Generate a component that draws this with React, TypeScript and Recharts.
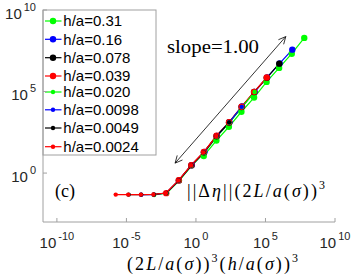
import React from 'react';
import { LineChart, Line, XAxis, YAxis, ReferenceLine } from 'recharts';

// ---- data (log10 values) ----
const seriesLabels = ['h/a=0.31', 'h/a=0.16', 'h/a=0.078', 'h/a=0.039', 'h/a=0.020', 'h/a=0.0098', 'h/a=0.0049', 'h/a=0.0024'];
const seriesColors = ['#00ff00', '#0000ff', '#000000', '#ff0000', '#00ff00', '#0000ff', '#000000', '#ff0000'];
const markerRadius = [3.2, 3.2, 3.2, 3.2, 2.2, 2.2, 2.2, 2.2];

const logX_031 = [0.56, 1.47, 2.37, 3.27, 4.18, 5.08, 5.98, 6.89, 7.79];
const logY_031 = [1.05, 1.99, 2.84, 3.76, 4.63, 5.59, 6.45, 7.32, 8.29];
const logX_016 = [-0.3, 0.61, 1.51, 2.41, 3.31, 4.22, 5.12, 6.02, 6.93];
const logY_016 = [0.49, 1.29, 2.28, 3.12, 4.08, 4.98, 5.87, 6.73, 7.57];
const logX_0078 = [-1.23, -0.33, 0.57, 1.48, 2.38, 3.28, 4.18, 5.09, 5.99];
const logY_0078 = [-0.45, 0.47, 1.27, 2.26, 3.1, 4.05, 4.97, 5.84, 6.71];
const logX_0039 = [-2.14, -1.23, -0.33, 0.57, 1.48, 2.38, 3.28, 4.18, 5.09];
const logY_0039 = [-1.23, -0.44, 0.49, 1.29, 2.29, 3.12, 4.07, 4.98, 5.86];
const logX_0020 = [-3.01, -2.1, -1.2, -0.3, 0.61, 1.51, 2.41, 3.31, 4.22];
const logY_0020 = [-1.34, -1.23, -0.46, 0.46, 1.25, 2.25, 3.09, 4.05, 4.97];
const logX_00098 = [-3.94, -3.03, -2.13, -1.23, -0.32, 0.58, 1.48, 2.39, 3.29];
const logY_00098 = [-1.33, -1.32, -1.22, -0.45, 0.48, 1.27, 2.27, 3.11, 4.06];
const logX_00049 = [-4.84, -3.94, -3.03, -2.13, -1.23, -0.32, 0.58, 1.48, 2.39];
const logY_00049 = [-1.32, -1.32, -1.31, -1.22, -0.45, 0.48, 1.27, 2.27, 3.11];
const logX_00024 = [-5.77, -4.87, -3.96, -3.06, -2.16, -1.25, -0.35, 0.55, 1.46];
const logY_00024 = [-1.32, -1.32, -1.32, -1.31, -1.22, -0.45, 0.48, 1.27, 2.27];

const seriesLogX = [logX_031, logX_016, logX_0078, logX_0039, logX_0020, logX_00098, logX_00049, logX_00024];
const seriesLogY = [logY_031, logY_016, logY_0078, logY_0039, logY_0020, logY_00098, logY_00049, logY_00024];

const xTickExponents = [-10, -5, 0, 5, 10];
const yTickExponents = [0, 5, 10];
const xDomain = [-11, 10];
const yDomain = [-3, 10];

// slope arrow end points (log10 coordinates)
const arrowStart = { x: -1.5, y: 0.61 };
const arrowEnd = { x: 6.46, y: 8.37 };

const seriesData = seriesLogX.map((xs, k) => xs.map((x, j) => ({ x, y: seriesLogY[k][j] })));

const BOX = '#a0a0a0';
const TICKTXT = '#262626';
const SANS = '"Liberation Sans", Arial, Helvetica, sans-serif';
const SERIF = '"Liberation Serif", "Times New Roman", serif';

const BottomTick = (props: any) => {
  const { x, y, payload } = props;
  return (
    <g>
      <line x1={x} y1={y} x2={x} y2={y - 4} stroke={BOX} strokeWidth={1} />
      <text x={x} y={y + 26} textAnchor="middle" fontFamily={SANS} fontSize={15} fill={TICKTXT}>
        10
        <tspan dx={2} dy={-8} fontSize={11}>{String(payload.value)}</tspan>
      </text>
    </g>
  );
};

const TopTick = (props: any) => {
  const { x, y } = props;
  return <line x1={x} y1={y} x2={x} y2={y + 4} stroke={BOX} strokeWidth={1} />;
};

const LeftTick = (props: any) => {
  const { x, y, payload } = props;
  return (
    <g>
      <line x1={x} y1={y} x2={x + 4} y2={y} stroke={BOX} strokeWidth={1} />
      <text x={x - 7} y={y + 8.8} textAnchor="end" fontFamily={SANS} fontSize={15} fill={TICKTXT}>
        10
        <tspan dx={2} dy={-8} fontSize={11}>{String(payload.value)}</tspan>
      </text>
    </g>
  );
};

const RightTick = (props: any) => {
  const { x, y } = props;
  return <line x1={x} y1={y} x2={x - 4} y2={y} stroke={BOX} strokeWidth={1} />;
};

const ArrowShape = (props: any) => {
  const { x1, y1, x2, y2 } = props;
  if ([x1, y1, x2, y2].some((v) => typeof v !== 'number' || isNaN(v))) return null;
  const ang = Math.atan2(y2 - y1, x2 - x1);
  const len = 8;
  const spread = 0.45;
  const head = (px: number, py: number, a: number) =>
    `M${px + len * Math.cos(a + spread)},${py + len * Math.sin(a + spread)} L${px},${py} L${px + len * Math.cos(a - spread)},${py + len * Math.sin(a - spread)}`;
  return (
    <g>
      <line x1={x1} y1={y1} x2={x2} y2={y2} stroke="#000" strokeWidth={0.8} />
      <path d={head(x2, y2, ang + Math.PI)} stroke="#000" strokeWidth={0.8} fill="none" />
      <path d={head(x1, y1, ang)} stroke="#000" strokeWidth={0.8} fill="none" />
    </g>
  );
};

const legendRowY = [21, 39.3, 57.7, 76, 92, 109.8, 128, 146.7];

const LegendBox = () => (
  <g>
    <rect x={43} y={10} width={113} height={145} fill="#fff" stroke={BOX} strokeWidth={1} />
    {seriesLabels.map((lab, k) => (
      <g key={lab}>
        <line x1={45} y1={legendRowY[k]} x2={61.5} y2={legendRowY[k]} stroke={seriesColors[k]} strokeWidth={1.2} />
        <circle cx={53} cy={legendRowY[k]} r={markerRadius[k]} fill={seriesColors[k]} />
        <text x={63.3} y={legendRowY[k] + 5.4} fontFamily={SANS} fontSize={15} fill="#000">
          {lab}
        </text>
      </g>
    ))}
  </g>
);

const Annotations = () => (
  <g fill="#000">
    <text x={167} y={53} fontFamily={SERIF} fontSize={19} textLength={92} lengthAdjust="spacingAndGlyphs">
      slope=1.00
    </text>
    <text x={55} y={197} fontFamily={SERIF} fontSize={18}>
      (c)
    </text>
    <text x={187} y={197} fontFamily={SERIF} fontSize={18} textLength={138} lengthAdjust="spacing">
      ||Δ<tspan fontStyle="italic">η</tspan>||(2<tspan fontStyle="italic">L</tspan>/<tspan fontStyle="italic">a</tspan>(<tspan fontStyle="italic">σ</tspan>))
      <tspan dy={-8} fontSize={12}>3</tspan>
    </text>
    <text x={127} y={269.5} fontFamily={SERIF} fontSize={18} textLength={171} lengthAdjust="spacing">
      (2<tspan fontStyle="italic">L</tspan>/<tspan fontStyle="italic">a</tspan>(<tspan fontStyle="italic">σ</tspan>))
      <tspan dy={-8} fontSize={12}>3</tspan>
      <tspan dy={8}>(</tspan><tspan fontStyle="italic">h</tspan>/<tspan fontStyle="italic">a</tspan>(<tspan fontStyle="italic">σ</tspan>))
      <tspan dy={-8} fontSize={12}>3</tspan>
    </text>
  </g>
);

export default function App() {
  return (
    <div style={{ position: 'absolute', left: 0, top: 0, width: 352, height: 274, background: '#fff' }}>
      <LineChart width={352} height={274} margin={{ top: 10, right: 17, bottom: 0, left: 0 }}>
        <XAxis
          xAxisId="b"
          dataKey="x"
          type="number"
          domain={xDomain}
          ticks={xTickExponents}
          allowDataOverflow
          interval={0}
          height={52}
          tickSize={0}
          tickMargin={0}
          tickLine={false}
          axisLine={{ stroke: BOX }}
          tick={<BottomTick />}
        />
        <XAxis
          xAxisId="t"
          orientation="top"
          dataKey="x"
          type="number"
          domain={xDomain}
          ticks={xTickExponents}
          allowDataOverflow
          interval={0}
          height={0}
          tickSize={0}
          tickMargin={0}
          tickLine={false}
          axisLine={{ stroke: BOX }}
          tick={<TopTick />}
        />
        <YAxis
          yAxisId="l"
          type="number"
          domain={yDomain}
          ticks={yTickExponents}
          allowDataOverflow
          interval={0}
          width={43}
          tickSize={0}
          tickMargin={0}
          tickLine={false}
          axisLine={{ stroke: BOX }}
          tick={<LeftTick />}
        />
        <YAxis
          yAxisId="r"
          orientation="right"
          type="number"
          domain={yDomain}
          ticks={yTickExponents}
          allowDataOverflow
          interval={0}
          width={0}
          tickSize={0}
          tickMargin={0}
          tickLine={false}
          axisLine={{ stroke: BOX }}
          tick={<RightTick />}
        />
        <ReferenceLine
          xAxisId="b"
          yAxisId="l"
          segment={[arrowStart, arrowEnd]}
          ifOverflow="visible"
          shape={<ArrowShape />}
        />
        {seriesData.map((d, k) => (
          <Line
            key={seriesLabels[k]}
            xAxisId="b"
            yAxisId="l"
            data={d}
            dataKey="y"
            name={seriesLabels[k]}
            stroke={seriesColors[k]}
            strokeWidth={1.2}
            dot={{ r: markerRadius[k], fill: seriesColors[k], stroke: seriesColors[k], strokeWidth: 0 }}
            activeDot={false}
            isAnimationActive={false}
          />
        ))}
        <Annotations />
        <LegendBox />
      </LineChart>
    </div>
  );
}
